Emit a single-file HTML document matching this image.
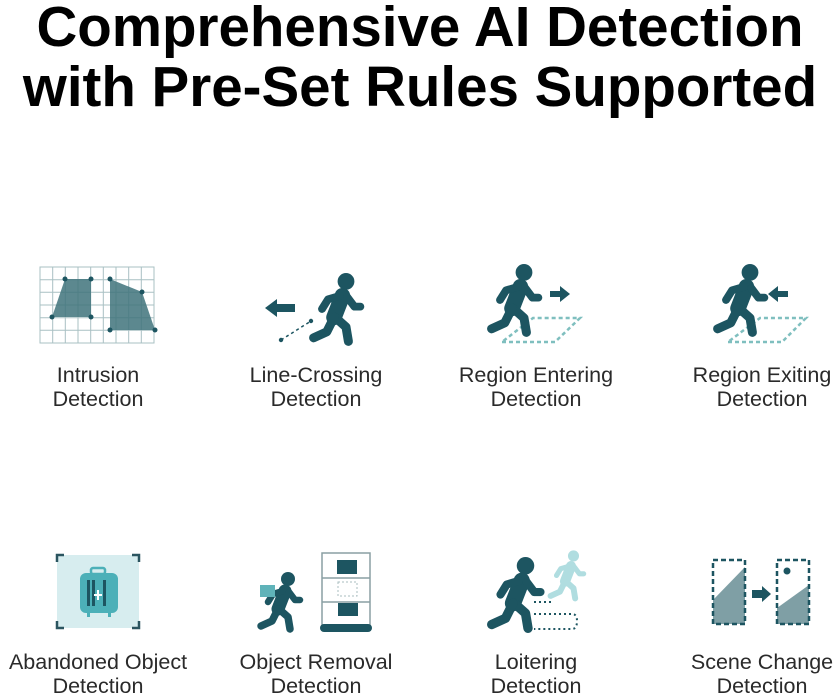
<!DOCTYPE html>
<html><head><meta charset="utf-8"><style>
html,body{margin:0;padding:0;background:#fff;}
#c{position:relative;width:840px;height:696px;overflow:hidden;font-family:"Liberation Sans",sans-serif;}
h1{position:absolute;left:0;top:0;width:840px;margin:0;text-align:center;font-size:56.5px;line-height:62px;font-weight:bold;color:#000;}
.l{position:absolute;width:240px;text-align:center;font-size:21.5px;line-height:23.5px;color:#2a2a2a;}
svg{position:absolute;left:0;top:0;}
</style></head><body><div id="c">
<h1><div style="position:absolute;top:-4px;width:840px">Comprehensive AI Detection</div><div style="position:absolute;top:56px;width:840px">with Pre-Set Rules Supported</div></h1>
<svg width="840" height="696" viewBox="0 0 840 696">
<defs>
<g id="p" fill="none" stroke="#1d5561" stroke-linecap="round" stroke-linejoin="round">
<circle cx="30" cy="7" r="7" fill="#1d5561" stroke="none"/>
<path d="M27 19 L20 37" stroke-width="13"/>
<path d="M25 19 L15 22 L10 30" stroke-width="6.5"/>
<path d="M31 20 L37 28 L42 28" stroke-width="6.5"/>
<path d="M21 37 L30 45 L32 57" stroke-width="7.5"/>
<path d="M20 37 L14 49 L3 54" stroke-width="7.5"/>
</g>
</defs>
<g stroke="#a9c0c3" stroke-width="1" fill="none">
<rect x="40" y="267" width="114" height="76"/>
<path d="M52.7 267V343M65.3 267V343M78 267V343M90.7 267V343M103.3 267V343M116 267V343M128.7 267V343M141.3 267V343M40 279.7H154M40 292.3H154M40 305H154M40 317.7H154M40 330.3H154"/>
</g>
<polygon points="65,279 91,279 91,317 52,317" fill="#3f737b" fill-opacity="0.85"/>
<polygon points="110,279 142,292 155,330 110,330" fill="#3f737b" fill-opacity="0.85"/>
<g fill="#1d5561"><circle cx="65" cy="279" r="2.5"/><circle cx="91" cy="279" r="2.5"/><circle cx="91" cy="317" r="2.5"/><circle cx="52" cy="317" r="2.5"/><circle cx="110" cy="279" r="2.5"/><circle cx="142" cy="292" r="2.5"/><circle cx="155" cy="330" r="2.5"/><circle cx="110" cy="330" r="2.5"/></g>
<use href="#p" transform="translate(310,273) scale(1.2)"/>
<polygon points="265,308 277,299 277,304 295,304 295,312 277,312 277,317" fill="#1d5561"/>
<line x1="281" y1="340" x2="311" y2="321" stroke="#1d5561" stroke-width="1.5" stroke-dasharray="3,3"/>
<circle cx="281" cy="340" r="2.2" fill="#1d5561"/><circle cx="311" cy="321" r="2.2" fill="#1d5561"/>
<polygon points="502,342 555,342 580,318 533,318" fill="none" stroke="#7fbfbf" stroke-width="2.5" stroke-dasharray="4,3"/>
<use href="#p" transform="translate(488,264) scale(1.2)"/>
<polygon points="570,294 560,286 560,291 550,291 550,297 560,297 560,302" fill="#1d5561"/>
<polygon points="728,342 782,342 806,318 760,318" fill="none" stroke="#7fbfbf" stroke-width="2.5" stroke-dasharray="4,3"/>
<use href="#p" transform="translate(714,264) scale(1.2)"/>
<polygon points="768,294 778,286 778,291 788,291 788,297 778,297 778,302" fill="#1d5561"/>
<rect x="57" y="555" width="82" height="73" fill="#d7edef"/>
<path d="M57 562V555H64M132 555H139V562M57 621V628H64M132 628H139V621" fill="none" stroke="#2b5560" stroke-width="2.5"/>
<rect x="91" y="568" width="14" height="6" rx="2" fill="none" stroke="#4cb0b8" stroke-width="2.5"/>
<rect x="80" y="573" width="38" height="40" rx="6" fill="#4cb0b8"/>
<rect x="87" y="613" width="3" height="4" fill="#4cb0b8"/><rect x="108" y="613" width="3" height="4" fill="#4cb0b8"/>
<g fill="#1d5561"><rect x="87" y="580" width="3" height="26"/><rect x="92" y="580" width="3" height="26"/><rect x="103" y="580" width="3" height="26"/></g>
<path d="M98 590V600M94 595H102" stroke="#fff" stroke-width="2"/>
<use href="#p" transform="translate(258,572) scale(1.0)"/>
<rect x="260" y="585" width="15" height="12" fill="#5fb3b9"/>
<rect x="322" y="553" width="48" height="72" fill="none" stroke="#8a9fa3" stroke-width="1.5"/>
<path d="M322 578H370M322 602H370" stroke="#8a9fa3" stroke-width="1.5"/>
<rect x="337" y="560" width="20" height="14" fill="#1d5561"/>
<rect x="338" y="582" width="19" height="14" fill="none" stroke="#a8bcbf" stroke-width="1" stroke-dasharray="2,2"/>
<rect x="338" y="603" width="20" height="13" fill="#1d5561"/>
<rect x="320" y="624" width="52" height="8" rx="4" fill="#1d5561"/>
<g transform="translate(548,550) scale(0.85)" fill="none" stroke="#b0dde0" stroke-linecap="round" stroke-linejoin="round">
<circle cx="30" cy="7" r="6.5" fill="#b0dde0" stroke="none"/>
<path d="M27 19 L20 37" stroke-width="12"/><path d="M25 19 L15 22 L10 30" stroke-width="6"/><path d="M31 20 L37 28 L42 28" stroke-width="6"/><path d="M21 37 L30 45 L32 57" stroke-width="7"/><path d="M20 37 L14 49 L3 54" stroke-width="7"/>
</g>
<use href="#p" transform="translate(488,557) scale(1.25)"/>
<path d="M534 602H554M534 614H572Q577 614 577 621Q577 629 572 629H534" fill="none" stroke="#1d5561" stroke-width="2" stroke-dasharray="2,3"/>
<polygon points="713,600 745,567 745,624 713,624" fill="#7f9fa5"/>
<polygon points="777,608 809,585 809,624 777,624" fill="#7f9fa5"/>
<rect x="713" y="560" width="32" height="64" fill="none" stroke="#1d5561" stroke-width="2.5" stroke-dasharray="5,3"/>
<rect x="777" y="560" width="32" height="64" fill="none" stroke="#1d5561" stroke-width="2.5" stroke-dasharray="5,3"/>
<circle cx="787" cy="571" r="3.5" fill="#1d5561"/>
<polygon points="771,594 762,586 762,590 752,590 752,598 762,598 762,602" fill="#1d5561"/>
</svg>
<div class="l" style="left:-22px;top:364px">Intrusion<br>Detection</div>
<div class="l" style="left:196px;top:364px">Line-Crossing<br>Detection</div>
<div class="l" style="left:416px;top:364px">Region Entering<br>Detection</div>
<div class="l" style="left:642px;top:364px">Region Exiting<br>Detection</div>
<div class="l" style="left:-22px;top:651px">Abandoned Object<br>Detection</div>
<div class="l" style="left:196px;top:651px">Object Removal<br>Detection</div>
<div class="l" style="left:416px;top:651px">Loitering<br>Detection</div>
<div class="l" style="left:642px;top:651px">Scene Change<br>Detection</div>
</div></body></html>
